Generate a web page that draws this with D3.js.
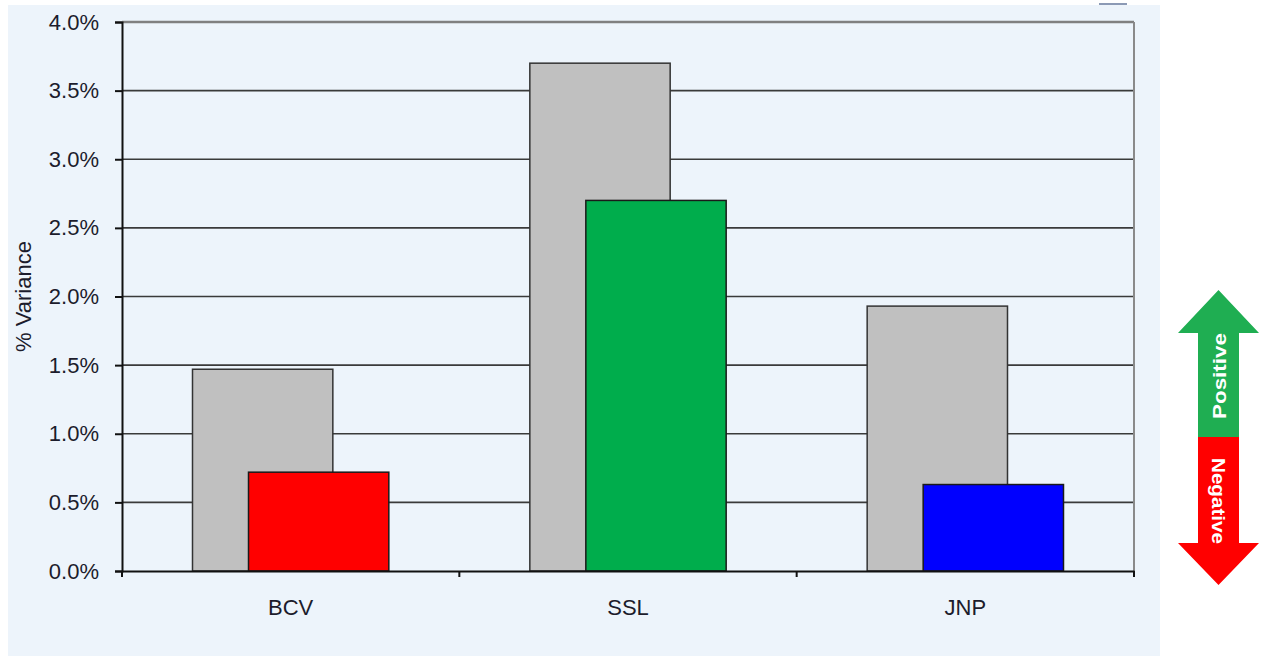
<!DOCTYPE html>
<html>
<head>
<meta charset="utf-8">
<script src="https://cdn.jsdelivr.net/npm/d3@7"></script>
<style>
  html, body { margin: 0; padding: 0; background: #fff; }
  svg { display: block; font-family: "Liberation Sans", Arial, sans-serif; }
</style>
</head>
<body>
<svg id="chart" width="1264" height="656"></svg>
<script>
// data
const categories = ["BCV", "SSL", "JNP"];
const baseValues = [1.47, 3.70, 1.93];   // grey bars
const actualValues = [0.72, 2.70, 0.63]; // coloured bars
const barColors = ["#ff0000", "#00ad4c", "#0000ff"];
const yTicks = [0, 0.5, 1, 1.5, 2, 2.5, 3, 3.5, 4];

const svg = d3.select("#chart");
const margin = { left: 122, right: 130, top: 22, bottom: 85 };
const width = 1264, height = 656;

// light blue panel
svg.append("rect")
  .attr("x", 8).attr("y", 5)
  .attr("width", 1152).attr("height", 651)
  .attr("fill", "#edf4fb");

// little fragment at the top right of the panel
svg.append("line")
  .attr("x1", 1099).attr("x2", 1127)
  .attr("y1", 4).attr("y2", 4)
  .attr("stroke", "#8c9ab5").attr("stroke-width", 2);

const x = d3.scaleBand()
  .domain(categories)
  .range([margin.left, width - margin.right])
  .padding(0);

const y = d3.scaleLinear()
  .domain([0, 4])
  .range([height - margin.bottom, margin.top]);

const g = svg.append("g");

// grid lines
g.selectAll("line.grid")
  .data(yTicks.filter(d => d > 0))
  .join("line")
  .attr("class", "grid")
  .attr("x1", margin.left).attr("x2", width - margin.right)
  .attr("y1", d => y(d)).attr("y2", d => y(d))
  .attr("stroke", d => d === 4 ? "#808080" : "#3a3a3a")
  .attr("stroke-width", d => d === 4 ? 2.5 : 1.6);

// right border of the plot
g.append("line")
  .attr("x1", width - margin.right).attr("x2", width - margin.right)
  .attr("y1", y(4)).attr("y2", y(0))
  .attr("stroke", "#8a8a8a").attr("stroke-width", 2);

const bw = x.bandwidth() * 0.416;
const shift = x.bandwidth() * 0.166;

// grey bars
g.selectAll("rect.base")
  .data(categories)
  .join("rect")
  .attr("class", "base")
  .attr("x", d => x(d) + x.bandwidth() / 2 - shift / 2 - bw / 2)
  .attr("y", (d, i) => y(baseValues[i]))
  .attr("width", bw)
  .attr("height", (d, i) => y(0) - y(baseValues[i]))
  .attr("fill", "#c0c0c0")
  .attr("stroke", "#333")
  .attr("stroke-width", 1.5);

// coloured bars
g.selectAll("rect.actual")
  .data(categories)
  .join("rect")
  .attr("class", "actual")
  .attr("x", d => x(d) + x.bandwidth() / 2 + shift / 2 - bw / 2)
  .attr("y", (d, i) => y(actualValues[i]))
  .attr("width", bw)
  .attr("height", (d, i) => y(0) - y(actualValues[i]))
  .attr("fill", (d, i) => barColors[i])
  .attr("stroke", "#1a1a1a")
  .attr("stroke-width", 1.5);

// y axis
const yAxis = g.append("g")
  .attr("transform", `translate(${margin.left},0)`)
  .call(d3.axisLeft(y).tickValues(yTicks).tickSize(7).tickPadding(16)
    .tickFormat(d => d3.format(".1f")(d) + "%"));
yAxis.select(".domain").attr("stroke", "#111").attr("stroke-width", 2);
yAxis.selectAll(".tick line").attr("stroke", "#111").attr("stroke-width", 2);
yAxis.selectAll("text")
  .attr("font-size", 22)
  .attr("fill", "#1c1c2c");

// x axis
const xAxis = g.append("g")
  .attr("transform", `translate(0,${y(0)})`)
  .call(d3.axisBottom(x).tickSize(0).tickPadding(28));
xAxis.select(".domain").attr("stroke", "#111").attr("stroke-width", 2);
xAxis.selectAll("text")
  .attr("font-size", 22)
  .attr("fill", "#1c1c2c");

// category boundary ticks
const bounds = categories.map(d => x(d)).concat([width - margin.right]);
xAxis.selectAll("line.bound")
  .data(bounds)
  .join("line")
  .attr("class", "bound")
  .attr("x1", d => d).attr("x2", d => d)
  .attr("y1", 0).attr("y2", 6)
  .attr("stroke", "#111").attr("stroke-width", 2);

// y axis title
svg.append("text")
  .attr("transform", `translate(31,${(y(0) + y(4)) / 2}) rotate(-90)`)
  .attr("text-anchor", "middle")
  .attr("font-size", 22)
  .attr("fill", "#1c1c2c")
  .text("% Variance");

// positive / negative arrow on the right
const ax = 1218.5, shaftW = 41, headW = 81;
const topTip = 290, topBase = 333, mid = 437, botBase = 543, botTip = 585;
const arrow = svg.append("g");

arrow.append("path")
  .attr("d", `M${ax},${topTip} L${ax + headW / 2},${topBase} L${ax + shaftW / 2},${topBase}
    L${ax + shaftW / 2},${mid} L${ax - shaftW / 2},${mid} L${ax - shaftW / 2},${topBase}
    L${ax - headW / 2},${topBase} Z`)
  .attr("fill", "#1fae52");

arrow.append("path")
  .attr("d", `M${ax - shaftW / 2},${mid} L${ax + shaftW / 2},${mid} L${ax + shaftW / 2},${botBase}
    L${ax + headW / 2},${botBase} L${ax},${botTip} L${ax - headW / 2},${botBase}
    L${ax - shaftW / 2},${botBase} Z`)
  .attr("fill", "#ff0000");

arrow.append("text")
  .attr("transform", `translate(${ax + 7},376) rotate(-90)`)
  .attr("text-anchor", "middle")
  .attr("font-size", 19)
  .attr("font-weight", "bold")
  .attr("fill", "#fff")
  .attr("textLength", 86)
  .attr("lengthAdjust", "spacingAndGlyphs")
  .text("Positive");

arrow.append("text")
  .attr("transform", `translate(${ax - 7},501) rotate(90)`)
  .attr("text-anchor", "middle")
  .attr("font-size", 19)
  .attr("font-weight", "bold")
  .attr("fill", "#fff")
  .attr("textLength", 86)
  .attr("lengthAdjust", "spacingAndGlyphs")
  .text("Negative");
</script>
</body>
</html>
